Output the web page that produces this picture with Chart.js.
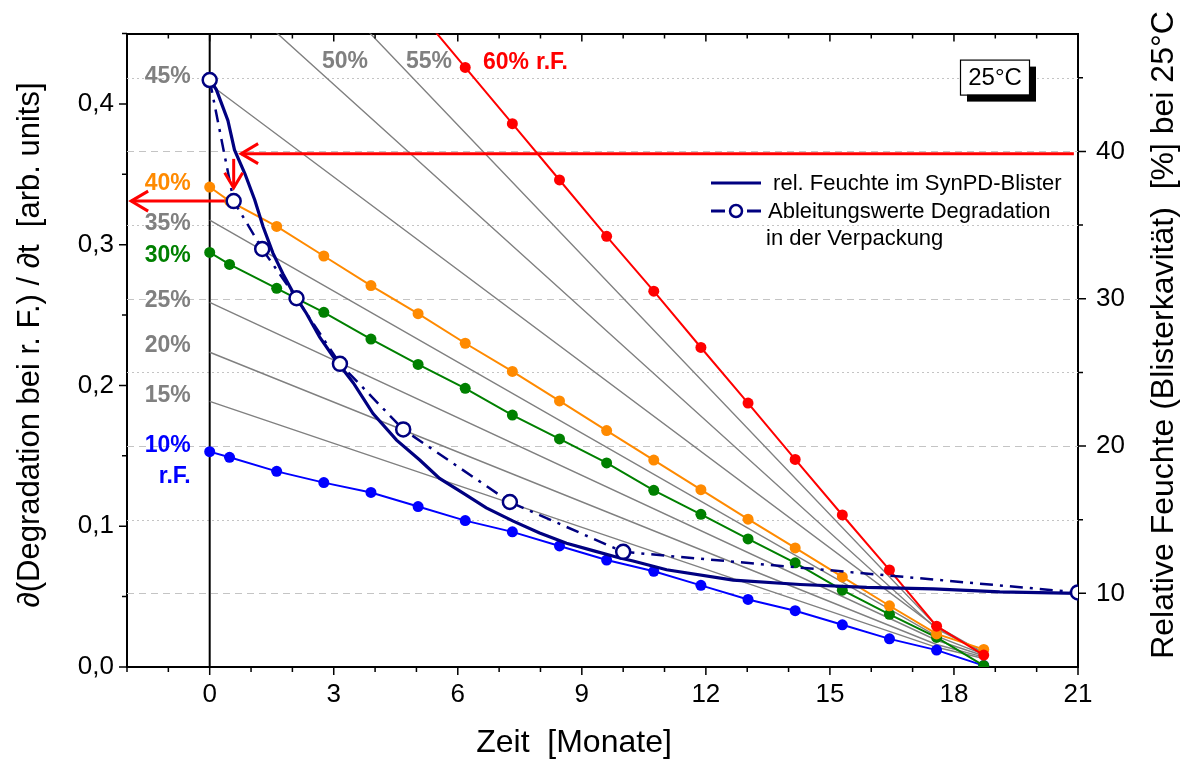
<!DOCTYPE html>
<html>
<head>
<meta charset="utf-8">
<title>Degradation und relative Feuchte</title>
<script src="https://cdn.jsdelivr.net/npm/chart.js@4.4.1/dist/chart.umd.min.js"></script>
<style>
html, body { margin: 0; padding: 0; background: #ffffff; }
#wrap { width: 1189px; height: 763px; }
canvas { display: block; }
</style>
</head>
<body>
<div id="wrap"><canvas id="chart" width="1189" height="763"></canvas></div>
<script>
// Sampling times of the storage test [months]
const months = [0, 0.48, 1.62, 2.76, 3.9, 5.04, 6.18, 7.32, 8.46, 9.6, 10.74, 11.88, 13.02, 14.16, 15.3, 16.44, 17.58, 18.72];

// Degradation rate at constant relative humidity [arb. units]
const rate10 = [0.153, 0.149, 0.139, 0.131, 0.124, 0.114, 0.104, 0.096, 0.086, 0.076, 0.068, 0.058, 0.048, 0.040, 0.030, 0.020, 0.012, 0.001];
const rate30 = [0.2945, 0.286, 0.269, 0.252, 0.233, 0.215, 0.198, 0.179, 0.162, 0.145, 0.1255, 0.1085, 0.091, 0.074, 0.0546, 0.0374, 0.021, 0.001];
const rate40 = [0.341, 0.331, 0.313, 0.292, 0.271, 0.251, 0.230, 0.210, 0.189, 0.168, 0.147, 0.126, 0.105, 0.0846, 0.064, 0.0435, 0.0235, 0.0125];
const rate60Months = [5.04, 6.18, 7.32, 8.46, 9.6, 10.74, 11.88, 13.02, 14.16, 15.3, 16.44, 17.58, 18.72];
const rate60 = [0.466, 0.426, 0.386, 0.346, 0.306, 0.267, 0.227, 0.1875, 0.1475, 0.108, 0.069, 0.029, 0.0085];

// Intermediate humidity levels (thin grey lines): start, knee and end values
const greyNames = ['15%', '20%', '25%', '35%', '45%', '50%', '55%'];
const greyMonths = [0, 17.58, 18.72];
const greyStart = [0.1887, 0.2236, 0.259, 0.3175, 0.414, 0.4935, 0.5695];
const greyKnee = [0.014, 0.016, 0.019, 0.022, 0.028, 0.027, 0.029];
const greyEnd = [0.006, 0.007, 0.008, 0.009, 0.010, 0.010, 0.010];

// Relative humidity inside the SynPD blister cavity [%]
const rhMonths = [0, 0.16, 0.44, 0.6, 0.85, 1.09, 1.29, 1.53, 1.77, 2.02, 2.34, 2.66, 2.98, 3.47, 3.95, 4.52, 5.08, 5.56, 6.13, 6.69, 7.34, 7.98, 8.63, 9.27, 9.92, 10.24, 11.05, 12.66, 14.28, 15.89, 17.5, 19.11, 21];
const rhValues = [44.9, 44.2, 42.1, 40.1, 38.5, 36.7, 34.9, 33.1, 31.7, 30.4, 29.0, 27.4, 26.1, 24.3, 22.2, 20.4, 19.05, 17.8, 16.8, 15.8, 14.9, 14.1, 13.4, 12.9, 12.4, 12.2, 11.6, 10.9, 10.6, 10.4, 10.3, 10.1, 10.0];

// Derived degradation rate inside the package [arb. units]
const derivMonths = [0, 0.58, 1.27, 2.1, 3.15, 4.68, 7.26, 10.0, 21];
const derivValues = [0.417, 0.331, 0.297, 0.262, 0.2154, 0.1688, 0.1172, 0.0818, 0.053];

// Axis tick labels
const xTicks = [0, 3, 6, 9, 12, 15, 18, 21];
const yTicks = [0, 0.1, 0.2, 0.3, 0.4];
const rhTicks = [10, 20, 30, 40];

// Reading guide: humidity 40 % -> curve -> 40 % line -> rate axis
const guideRH = [39.85];
const guideMonths = [20.9, 0.76, 0.58, -1.9];
const guideRate = [0.361, 0.3405, 0.331];

const NAVY = '#000080', RED = '#ff0000', ORANGE = '#ff8a00', GREEN = '#008000', BLUE = '#0000ff', GREY = '#808080';
const SANS = '"Liberation Sans", Arial, Helvetica, sans-serif';
const NARROW = '"Liberation Sans Narrow", "Arial Narrow", "Liberation Sans", Arial, sans-serif';

function pts(xs, ys) { return xs.map((x, i) => ({ x: x, y: ys[i] })); }

function measured(label, xs, ys, color) {
  return {
    label: label, data: pts(xs, ys), xAxisID: 'x', yAxisID: 'y',
    borderColor: color, backgroundColor: color, borderWidth: 2,
    pointRadius: 5.5, pointHoverRadius: 5.5, pointBorderWidth: 0,
    pointBackgroundColor: color, tension: 0
  };
}

const datasets = [
  {
    label: 'Ableitungswerte Degradation in der Verpackung',
    data: pts(derivMonths, derivValues), xAxisID: 'x', yAxisID: 'y',
    borderColor: NAVY, borderWidth: 2.5, borderDash: [13, 7, 3, 7],
    pointRadius: 7, pointHoverRadius: 7, pointBorderWidth: 2.5,
    pointBorderColor: NAVY, pointBackgroundColor: '#ffffff', tension: 0
  },
  {
    label: 'rel. Feuchte im SynPD-Blister',
    data: pts(rhMonths, rhValues), xAxisID: 'x', yAxisID: 'y2',
    borderColor: NAVY, borderWidth: 3.2, pointRadius: 0, tension: 0
  },
  measured('60% r.F.', rate60Months, rate60, RED),
  measured('40%', months, rate40, ORANGE),
  measured('30%', months, rate30, GREEN),
  measured('10% r.F.', months, rate10, BLUE)
];
greyNames.forEach((name, i) => {
  datasets.push({
    label: name,
    data: pts(greyMonths, [greyStart[i], greyKnee[i], greyEnd[i]]),
    xAxisID: 'x', yAxisID: 'y',
    borderColor: GREY, borderWidth: 1.4, pointRadius: 0, tension: 0
  });
});

function arrowHead(ctx, x, y, dir) {
  // dir: 'left' or 'down'
  ctx.beginPath();
  if (dir === 'left') {
    ctx.moveTo(x + 17, y - 10); ctx.lineTo(x, y); ctx.lineTo(x + 17, y + 10);
  } else {
    ctx.moveTo(x - 9, y - 15); ctx.lineTo(x, y); ctx.lineTo(x + 9, y - 15);
  }
  ctx.stroke();
}

const decorations = {
  id: 'decorations',
  beforeDatasetsDraw(chart) {
    const { ctx, chartArea: a, scales } = chart;
    const x = scales.x, y2 = scales.y2;
    ctx.save();
    // horizontal humidity grid: dashed every 10 %, dotted in between
    ctx.lineWidth = 1.2;
    ctx.strokeStyle = '#c4c4c4';
    for (let v = 10; v <= 45; v += 5) {
      const py = Math.round(y2.getPixelForValue(v)) + 0.5;
      ctx.setLineDash(v % 10 === 0 ? [7, 5] : [2, 3]);
      ctx.beginPath(); ctx.moveTo(a.left, py); ctx.lineTo(a.right, py); ctx.stroke();
    }
    ctx.setLineDash([]);
    // start of storage
    const x0 = x.getPixelForValue(0);
    ctx.strokeStyle = '#000'; ctx.lineWidth = 2;
    ctx.beginPath(); ctx.moveTo(x0, a.top); ctx.lineTo(x0, a.bottom); ctx.stroke();
    ctx.restore();
  },
  afterDatasetsDraw(chart) {
    const { ctx, chartArea: a, scales } = chart;
    const x = scales.x, y = scales.y, y2 = scales.y2;
    ctx.save();

    // reading guide arrows
    ctx.strokeStyle = RED; ctx.lineWidth = 3; ctx.lineCap = 'butt';
    const yRH = y2.getPixelForValue(guideRH[0]);
    const xa = x.getPixelForValue(guideMonths[0]), xb = x.getPixelForValue(guideMonths[1]);
    ctx.beginPath(); ctx.moveTo(xa, yRH); ctx.lineTo(xb, yRH); ctx.stroke();
    arrowHead(ctx, xb, yRH, 'left');
    const xd = x.getPixelForValue(guideMonths[2]);
    const yd0 = y.getPixelForValue(guideRate[0]), yd1 = y.getPixelForValue(guideRate[1]);
    ctx.beginPath(); ctx.moveTo(xd, yd0); ctx.lineTo(xd, yd1); ctx.stroke();
    arrowHead(ctx, xd, yd1, 'down');
    const yl = y.getPixelForValue(guideRate[2]);
    const xl0 = x.getPixelForValue(guideMonths[2]) - 9, xl1 = x.getPixelForValue(guideMonths[3]);
    ctx.beginPath(); ctx.moveTo(xl0, yl); ctx.lineTo(xl1, yl); ctx.stroke();
    arrowHead(ctx, xl1, yl, 'left');

    // humidity level labels
    ctx.font = 'bold 23px ' + SANS;
    ctx.textBaseline = 'middle';
    ctx.textAlign = 'right';
    const xr = x.getPixelForValue(0) - 19;
    const side = [
      ['45%', GREY, 76], ['40%', ORANGE, 183], ['35%', GREY, 223], ['30%', GREEN, 255],
      ['25%', GREY, 300], ['20%', GREY, 345], ['15%', GREY, 395], ['10%', BLUE, 444.5], ['r.F.', BLUE, 476]
    ];
    side.forEach(s => { ctx.fillStyle = s[1]; ctx.fillText(s[0], xr, s[2] + 1); });
    ctx.textAlign = 'left';
    ctx.fillStyle = GREY;
    ctx.fillText('50%', 322, 62);
    ctx.fillText('55%', 406, 62);
    ctx.fillStyle = RED;
    ctx.fillText('60%', 483, 63);
    ctx.fillText('r.F.', 536, 63);

    // temperature box with shadow
    const bx = a.right - 118, by = a.top + 26, bw = 69, bh = 35;
    ctx.fillStyle = '#000';
    ctx.fillRect(bx + 7, by + 7, bw, bh);
    ctx.fillStyle = '#fff';
    ctx.fillRect(bx, by, bw, bh);
    ctx.strokeStyle = '#000'; ctx.lineWidth = 1.2;
    ctx.strokeRect(bx + 0.5, by + 0.5, bw, bh);
    ctx.fillStyle = '#000';
    ctx.font = '24px ' + SANS;
    ctx.textAlign = 'center';
    ctx.fillText('25°C', bx + bw / 2 + 0.5, by + bh / 2 + 1);

    // legend
    const lx = a.right - 367, ly1 = 183, ly2 = 211;
    ctx.strokeStyle = NAVY; ctx.lineWidth = 3;
    ctx.beginPath(); ctx.moveTo(lx, ly1); ctx.lineTo(lx + 50, ly1); ctx.stroke();
    ctx.beginPath(); ctx.moveTo(lx, ly2); ctx.lineTo(lx + 14, ly2); ctx.moveTo(lx + 36, ly2); ctx.lineTo(lx + 50, ly2); ctx.stroke();
    ctx.lineWidth = 2.5; ctx.fillStyle = '#fff';
    ctx.beginPath(); ctx.arc(lx + 25, ly2, 6, 0, Math.PI * 2); ctx.fill(); ctx.stroke();
    ctx.fillStyle = '#000';
    ctx.font = '22px ' + SANS;
    ctx.textAlign = 'left';
    ctx.fillText(' rel. Feuchte im SynPD-Blister', lx + 56, ly1 + 1);
    ctx.fillText('Ableitungswerte Degradation', lx + 57, ly2 + 1);
    ctx.fillText('in der Verpackung', lx + 55, ly2 + 28);
    ctx.restore();
  },
  afterDraw(chart) {
    const { ctx, chartArea: a, scales } = chart;
    const x = scales.x, y = scales.y, y2 = scales.y2;
    ctx.save();
    // tick marks: outside on bottom, left and right; inside on top
    ctx.strokeStyle = '#000'; ctx.lineWidth = 1.5;
    ctx.beginPath();
    for (let m = -2; m <= 21; m++) {
      const px = x.getPixelForValue(m);
      const major = m % 3 === 0;
      ctx.moveTo(px, a.bottom); ctx.lineTo(px, a.bottom + (major ? 8 : 5));
      ctx.moveTo(px, a.top); ctx.lineTo(px, a.top + (major ? 8 : 5));
    }
    for (let k = 0; k <= 9; k++) {
      const py = y.getPixelForValue(k * 0.05);
      ctx.moveTo(a.left, py); ctx.lineTo(a.left - (k % 2 === 0 ? 8 : 5), py);
    }
    for (let v = 10; v <= 45; v += 5) {
      const py = y2.getPixelForValue(v);
      ctx.moveTo(a.right, py); ctx.lineTo(a.right + (v % 10 === 0 ? 8 : 5), py);
    }
    ctx.stroke();

    // axis titles
    ctx.fillStyle = '#000';
    ctx.textAlign = 'center'; ctx.textBaseline = 'middle';
    ctx.font = '32px ' + NARROW;
    ctx.fillText('Zeit  [Monate]', 574, 743);
    ctx.save();
    ctx.translate(30, 345); ctx.rotate(-Math.PI / 2);
    ctx.font = '31px ' + SANS;
    ctx.fillText('\u2202(Degradation bei r. F.) / \u2202t  [arb. units]', 0, 0);
    ctx.restore();
    ctx.save();
    ctx.translate(1164, 335); ctx.rotate(-Math.PI / 2);
    ctx.font = '32px ' + SANS;
    ctx.fillText('Relative Feuchte (Blisterkavität)  [%] bei 25°C', 0, 0);
    ctx.restore();
    ctx.restore();
  }
};

new Chart(document.getElementById('chart'), {
  type: 'line',
  data: { datasets: datasets },
  options: {
    responsive: false,
    animation: false,
    devicePixelRatio: 1,
    layout: { padding: 0 },
    plugins: { legend: { display: false }, tooltip: { enabled: false } },
    scales: {
      x: {
        type: 'linear', position: 'bottom', min: -2, max: 21,
        afterFit(s) { s.height = 96; },
        afterBuildTicks(s) { s.ticks = xTicks.map(v => ({ value: v })); },
        ticks: { font: { family: NARROW, size: 26 }, color: '#000', padding: 12, maxRotation: 0, autoSkip: false, callback: v => String(v) },
        grid: { display: false, drawTicks: false },
        border: { display: true, color: '#000', width: 2 }
      },
      xTop: {
        type: 'linear', position: 'top', min: -2, max: 21,
        afterFit(s) { s.height = 33; },
        ticks: { display: false },
        grid: { display: false, drawTicks: false },
        border: { display: true, color: '#000', width: 2 }
      },
      y: {
        type: 'linear', position: 'left', min: 0, max: 0.45,
        afterFit(s) { s.width = 127; },
        afterBuildTicks(s) { s.ticks = yTicks.map(v => ({ value: v })); },
        ticks: { font: { family: SANS, size: 26 }, color: '#000', padding: 13, callback: v => v.toFixed(1).replace('.', ',') },
        grid: { display: false, drawTicks: false },
        border: { display: true, color: '#000', width: 2 }
      },
      y2: {
        type: 'linear', position: 'right', min: 5, max: 48,
        afterFit(s) { s.width = 111; },
        afterBuildTicks(s) { s.ticks = rhTicks.map(v => ({ value: v })); },
        ticks: { font: { family: SANS, size: 26 }, color: '#000', padding: 18, callback: v => String(v) },
        grid: { display: false, drawTicks: false },
        border: { display: true, color: '#000', width: 2 }
      }
    }
  },
  plugins: [decorations]
});
</script>
</body>
</html>
